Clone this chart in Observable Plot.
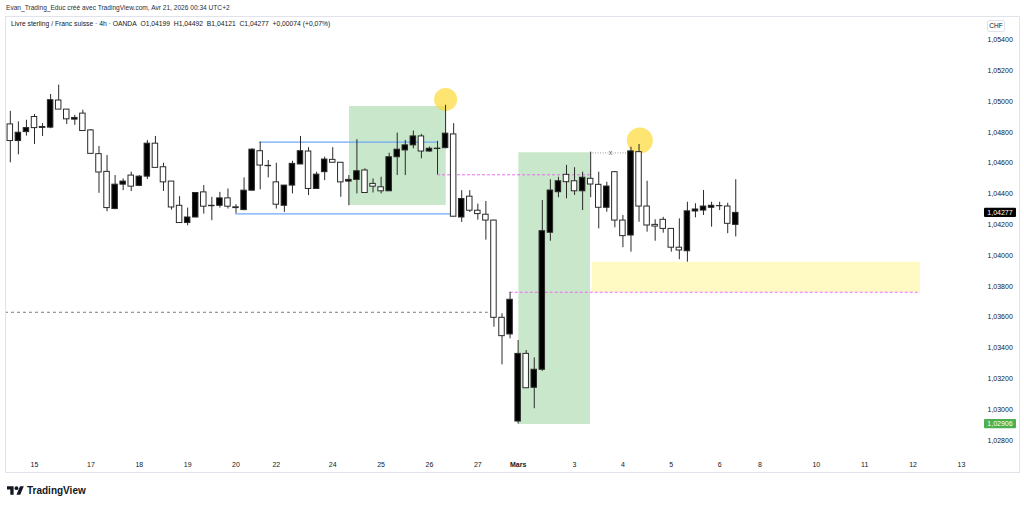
<!DOCTYPE html>
<html><head><meta charset="utf-8">
<script src="https://cdn.jsdelivr.net/npm/d3@7"></script>
<script src="https://cdn.jsdelivr.net/npm/@observablehq/plot@0.6"></script>
<style>
body{margin:0;background:#fff;width:1024px;height:507px;position:relative;overflow:hidden;font-family:"Liberation Sans",Arial,sans-serif;color:#131722}
.abs{position:absolute;white-space:nowrap}
</style></head><body>
<div class="abs" style="left:6px;top:4px;font-size:6.6px;line-height:8px;color:#2a2e39">Evan_Trading_Educ créé avec TradingView.com, Avr 21, 2026 00:34 UTC+2</div>
<div id="chart" class="abs" style="left:0;top:0"></div>
<div class="abs" style="left:5px;top:16px;width:1015px;height:457px;box-sizing:border-box;border:1px solid #e0e3eb;pointer-events:none"></div>
<div class="abs" style="left:11px;top:20px;font-size:6.75px;line-height:8px;color:#131722">Livre sterling / Franc suisse · 4h · OANDA&nbsp; O1,04199&nbsp; H1,04492&nbsp; B1,04121&nbsp; C1,04277&nbsp; +0,00074 (+0,07%)</div>
<div class="abs" style="left:987px;top:20px;width:18px;height:12px;box-sizing:border-box;border:1px solid #e0e3eb;border-radius:2px;font-size:6.5px;line-height:10px;text-align:center">CHF</div>
<div class="abs" style="left:7px;top:485px;display:flex;align-items:center">
<svg width="17" height="9" viewBox="0 4 36 18"><path fill="#131722" d="M14 22H7V11H0V4h14v18zM28 22h-8l7.5-18h8L28 22z"/><circle fill="#131722" cx="20" cy="8" r="4"/></svg>
<span style="font-weight:bold;font-size:10px;margin-left:3px;color:#131722">TradingView</span></div>
<script>
// ---- data ----
const firstBar = -3; // bar index of the first candle (Sun 15 = bar 0)
const opens = [
1.04851,1.04743,1.04801,1.04899,1.04834,1.04830,1.05006,1.04947,1.04882,1.04921,
1.04812,1.04658,1.04543,1.04302,1.04460,1.04519,1.04452,1.04512,1.04726,1.04573,
1.04480,1.04323,1.04211,1.04247,1.04410,1.04323,1.04323,1.04371,1.04313,1.04295,
1.04421,1.04677,1.04582,1.04475,1.04323,1.04454,1.04591,1.04675,1.04432,1.04541,
1.04621,1.04602,1.04480,1.04491,1.04552,1.04465,1.04443,1.04417,1.04638,1.04682,
1.04715,1.04773,1.04675,1.04694,1.04697,1.04786,1.04247,1.04382,1.04291,1.04265,
1.04227,1.03596,1.03488,1.02923,1.03362,1.03142,1.03259,1.04148,1.04411,1.04524,
1.04482,1.04417,1.04498,1.04459,1.04310,1.04541,1.04227,1.04130,1.04671,1.04318,
1.04199,1.04232,1.04173,1.04051,1.04028,1.04286,1.04292,1.04310,1.04320,1.04318,
1.04199];
const highs = [
1.04936,1.04867,1.04878,1.04915,1.04856,1.05045,1.05106,1.04947,1.04910,1.04943,
1.04818,1.04708,1.04649,1.04519,1.04497,1.04541,1.04519,1.04747,1.04773,1.04599,
1.04480,1.04382,1.04308,1.04408,1.04454,1.04378,1.04410,1.04432,1.04330,1.04504,
1.04693,1.04736,1.04617,1.04599,1.04454,1.04612,1.04773,1.04700,1.04541,1.04639,
1.04700,1.04602,1.04519,1.04752,1.04563,1.04497,1.04508,1.04664,1.04795,1.04747,
1.04808,1.04786,1.04704,1.04741,1.04975,1.04856,1.04421,1.04421,1.04334,1.04351,
1.04230,1.03622,1.03762,1.03449,1.03384,1.03336,1.04357,1.04492,1.04508,1.04585,
1.04570,1.04541,1.04671,1.04541,1.04476,1.04545,1.04260,1.04703,1.04721,1.04482,
1.04232,1.04248,1.04175,1.04238,1.04346,1.04336,1.04422,1.04346,1.04346,1.04339,
1.04492];
const lows = [
1.04602,1.04654,1.04775,1.04721,1.04773,1.04823,1.04947,1.04850,1.04845,1.04808,
1.04656,1.04404,1.04284,1.04297,1.04421,1.04415,1.04447,1.04493,1.04569,1.04416,
1.04295,1.04211,1.04193,1.04245,1.04269,1.04226,1.04308,1.04302,1.04273,1.04291,
1.04418,1.04426,1.04504,1.04302,1.04280,1.04400,1.04591,1.04389,1.04432,1.04486,
1.04602,1.04378,1.04323,1.04400,1.04406,1.04406,1.04400,1.04417,1.04519,1.04519,
1.04693,1.04628,1.04671,1.04524,1.04693,1.04252,1.04215,1.04280,1.04230,1.04100,
1.03535,1.03291,1.03460,1.02906,1.03139,1.03006,1.03248,1.04093,1.04375,1.04368,
1.04390,1.04292,1.04375,1.04173,1.04281,1.04180,1.04051,1.04022,1.04216,1.04152,
1.04093,1.04145,1.04022,1.03973,1.03957,1.04245,1.04260,1.04184,1.04292,1.04142,
1.04121];
const closes = [
1.04743,1.04797,1.04827,1.04827,1.04828,1.05008,1.04947,1.04884,1.04893,1.04808,
1.04660,1.04539,1.04308,1.04460,1.04480,1.04447,1.04512,1.04726,1.04569,1.04475,
1.04312,1.04211,1.04247,1.04406,1.04317,1.04320,1.04371,1.04317,1.04308,1.04421,
1.04687,1.04584,1.04580,1.04330,1.04454,1.04595,1.04677,1.04432,1.04525,1.04623,
1.04602,1.04475,1.04491,1.04547,1.04406,1.04447,1.04417,1.04638,1.04687,1.04715,
1.04773,1.04675,1.04693,1.04691,1.04791,1.04252,1.04367,1.04291,1.04269,1.04227,
1.03596,1.03477,1.03713,1.03362,1.03139,1.03259,1.04158,1.04422,1.04482,1.04476,
1.04417,1.04505,1.04461,1.04310,1.04448,1.04227,1.04126,1.04676,1.04318,1.04195,
1.04188,1.04173,1.04051,1.04033,1.04287,1.04299,1.04318,1.04323,1.04321,1.04206,
1.04277];

// time axis (bar index of first bar of each labelled day)
const tickBars = [0, 7, 13, 19, 25, 30, 37, 43, 49, 55, 60, 67, 73, 79, 85, 90, 97, 103, 109, 115];
const tickLabels = ["15","17","18","19","20","22","24","25","26","27","Mars","3","4","5","6","8","10","11","12","13"];
const monthLabel = "Mars";
// price axis
const priceTicks = [1.028,1.030,1.032,1.034,1.036,1.038,1.040,1.042,1.044,1.046,1.048,1.050,1.052,1.054];

// annotations (bar index / price)
const greenStart = [39.08, 60.09];
const greenEnd   = [51.08, 68.98];
const greenTop   = [1.04967, 1.04667];
const greenBottom= [1.04325, 1.02904];
const yellowStart = [69.19], yellowEnd = [109.93], yellowTop = [1.03957], yellowBottom = [1.03762];
const blueLevel = [1.04736, 1.04271], blueFrom = [27.95, 24.94], blueTo = [50.04, 51.61];
const pinkLevel = [1.04524, 1.03762], pinkFrom = [50.0, 59.02], pinkTo = [68.98, 109.93];
const grayLevel = [1.03632], grayFrom = [-3.6], grayTo = [56.3];
const dotLevel = [1.04666], dotFrom = [68.98], dotTo = [73.6], dotMarkBar = [71.46];
const circleBar = [51.0, 75.1], circlePrice = [1.05013, 1.04747];
const lastPrice = 1.04277, lowPrice = 1.02906;

// ---- build tables ----
const candles = opens.map((o, k) => ({i: firstBar + k, open: o, high: highs[k], low: lows[k], close: closes[k]}));
const greens = greenStart.map((s, k) => ({x1: s, x2: greenEnd[k], y1: greenBottom[k], y2: greenTop[k]}));
const yellows = yellowStart.map((s, k) => ({x1: s, x2: yellowEnd[k], y1: yellowBottom[k], y2: yellowTop[k]}));
const blues = blueLevel.map((y, k) => ({y, x1: blueFrom[k], x2: blueTo[k]}));
const pinks = pinkLevel.map((y, k) => ({y, x1: pinkFrom[k], x2: pinkTo[k]}));
const grays = grayLevel.map((y, k) => ({y, x1: grayFrom[k], x2: grayTo[k]}));
const dots = dotLevel.map((y, k) => ({y, x1: dotFrom[k], x2: dotTo[k], xm: dotMarkBar[k]}));
const circles = circleBar.map((x, k) => ({x, y: circlePrice[k]}));
const labelOf = new Map(tickBars.map((b, k) => [b, tickLabels[k]]));
const fmt = p => p.toFixed(5).replace(".", ",");

const tags = [{price: lastPrice, bg: "#000000"}, {price: lowPrice, bg: "#4caf50"}];
function tagMark(index, scales, values, dims) {
  const g = d3.create("svg:g");
  for (const t of tags) {
    const yy = scales.y(t.price);
    const x0 = dims.width - dims.marginRight + 7;
    g.append("rect").attr("x", x0).attr("y", yy - 4.6).attr("width", 32).attr("height", 9.2).attr("rx", 1).attr("fill", t.bg);
    g.append("text").attr("x", x0 + 16).attr("y", yy).attr("dy", "0.35em").attr("text-anchor", "middle")
      .attr("fill", "#fff").attr("font-size", 7).text(fmt(t.price));
  }
  return g.node();
}

const plot = Plot.plot({
  width: 1024, height: 473,
  marginLeft: 5, marginRight: 47, marginTop: 17, marginBottom: 18,
  x: {type: "linear", domain: [-3.598, 116.99]},
  y: {domain: [1.027026, 1.055447]},
  style: {background: "transparent", fontFamily: "Liberation Sans, Arial, sans-serif", color: "#131722"},
  marks: [
    Plot.rect(greens, {x1: "x1", x2: "x2", y1: "y1", y2: "y2", fill: "#4caf50", fillOpacity: 0.3}),
    Plot.rect(yellows, {x1: "x1", x2: "x2", y1: "y1", y2: "y2", fill: "#ffeb3b", fillOpacity: 0.3}),
    Plot.ruleY(grays, {y: "y", x1: "x1", x2: "x2", stroke: "#787b86", strokeWidth: 1, strokeDasharray: "3,3"}),
    Plot.ruleY(blues, {y: "y", x1: "x1", x2: "x2", stroke: "#6fa8f5", strokeWidth: 1.3}),
    Plot.ruleY(pinks, {y: "y", x1: "x1", x2: "x2", stroke: "#ea6cf0", strokeWidth: 1, strokeDasharray: "3,2"}),
    Plot.ruleY(dots, {y: "y", x1: "x1", x2: "x2", stroke: "#9598a1", strokeWidth: 1, strokeDasharray: "1,1.5"}),
    Plot.text(dots, {x: "xm", y: "y", text: () => "x", fontSize: 7, fill: "#555", stroke: "#fff", strokeWidth: 2}),
    Plot.dot(circles.slice(0, 1), {x: "x", y: "y", r: 11.5, fill: "#fdd835", fillOpacity: 0.7, stroke: "none"}),
    Plot.dot(circles.slice(1), {x: "x", y: "y", r: 13, fill: "#fdd835", fillOpacity: 0.7, stroke: "none"}),
    Plot.ruleX(candles, {x: "i", y1: "low", y2: "high", stroke: "#2a2a2a", strokeWidth: 1}),
    Plot.rect(candles, {x1: d => d.i - 0.34, x2: d => d.i + 0.34, y1: "open", y2: "close",
      fill: d => d.close >= d.open ? "#000000" : "#ffffff", stroke: "#2a2a2a", strokeWidth: 1}),
    Plot.axisY({anchor: "right", ticks: priceTicks, tickFormat: fmt, tickSize: 0, tickPadding: 10, fontSize: 7, textAnchor: "start"}),
    Plot.axisX({ticks: tickBars.filter(b => labelOf.get(b) !== monthLabel), tickFormat: b => labelOf.get(b), tickSize: 0, tickPadding: 7, fontSize: 7}),
    Plot.axisX({ticks: tickBars.filter(b => labelOf.get(b) === monthLabel), tickFormat: b => labelOf.get(b), tickSize: 0, tickPadding: 7, fontSize: 7, fontWeight: "bold"}),
    tagMark
  ]
});
document.getElementById("chart").appendChild(plot);
</script>
</body></html>
